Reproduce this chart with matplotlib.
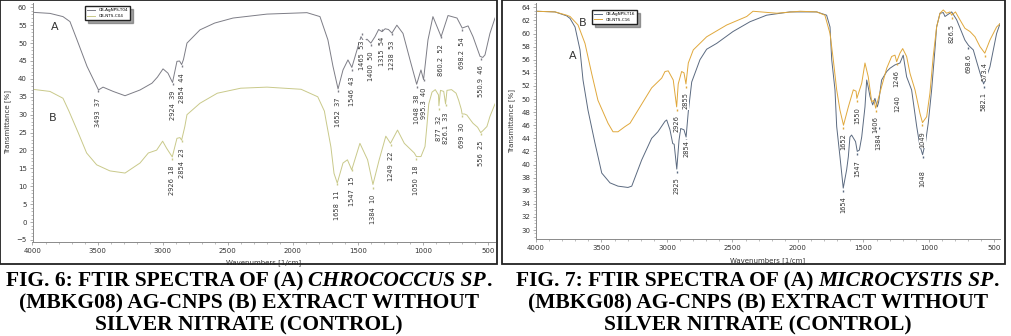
import matplotlib
matplotlib.use('Agg')
import matplotlib.pyplot as plt
from matplotlib.ticker import MultipleLocator
from matplotlib.patches import Rectangle

# ---- Fig. 6 (Chrococcus sp.) ----
f6_a_wn = [4000, 3866, 3766, 3712, 3658, 3581, 3493, 3458, 3380, 3289, 3174, 3082, 3040,
           2997, 2959, 2924, 2890, 2870, 2854, 2840, 2813, 2713, 2600, 2459, 2198, 1891,
           1791, 1730, 1691, 1652, 1614, 1576, 1546, 1499, 1476, 1453, 1430, 1400, 1368,
           1340, 1315, 1290, 1265, 1238, 1200, 1153, 1099, 1048, 1015, 995, 961, 923, 860,
           807, 738, 698, 653, 615, 561, 540, 523, 485, 446]
f6_a_t = [58.6, 58.3, 57.4, 56.0, 50.9, 43.5, 36.9, 37.7, 36.5, 35.3, 36.9, 38.8, 40.5,
          42.8, 41.6, 39.0, 44.9, 45.0, 44.0, 45.4, 50.0, 53.7, 55.6, 57.0, 58.1, 58.5,
          57.4, 50.9, 43.5, 37.2, 42.5, 45.3, 43.2, 49.0, 51.8, 50.4, 51.1, 50.0, 51.8,
          53.8, 53.2, 54.0, 53.8, 52.8, 55.0, 52.7, 45.3, 38.5, 42.5, 39.8, 50.9, 57.4, 51.8,
          57.7, 57.0, 54.2, 54.8, 51.8, 46.3, 46.0, 46.7, 52.7, 57.0]
f6_b_wn = [4000, 3866, 3766, 3720, 3648, 3584, 3507, 3405, 3289, 3174, 3110, 3046, 3000,
           2969, 2926, 2890, 2867, 2854, 2830, 2813, 2713, 2580, 2400, 2198, 1936, 1808,
           1757, 1745, 1707, 1683, 1658, 1614, 1580, 1547, 1484, 1425, 1384, 1336, 1285,
           1249, 1195, 1143, 1066, 1050, 1015, 984, 969, 955, 930, 905, 880, 877, 865, 840,
           826, 815, 780, 745, 725, 705, 699, 680, 662, 640, 615, 580, 556, 540, 508, 485, 446]
f6_b_t = [37.1, 36.5, 34.6, 31.0, 24.9, 19.3, 16.0, 14.3, 13.7, 16.5, 19.3, 20.1, 22.6,
          20.6, 18.2, 23.4, 23.6, 22.9, 26.6, 30.0, 33.2, 36.0, 37.4, 37.7, 37.1, 35.0,
          31.0, 28.5, 21.0, 13.6, 10.9, 16.5, 17.4, 14.6, 22.0, 17.4, 10.5, 17.4, 24.0,
          22.0, 25.7, 22.0, 19.3, 18.3, 18.3, 21.1, 27.0, 33.0, 36.3, 37.0, 35.5, 32.5, 36.8, 36.5,
          33.0, 36.8, 37.0, 36.0, 34.0, 31.5, 30.2, 30.2, 29.9, 28.8, 27.6, 26.5, 25.0, 25.5, 26.7, 29.5, 33.0]
f6_a_peaks = [3493, 2924, 2854, 1652, 1546, 1465, 1400, 1315, 1238, 1048, 995.3, 860.2, 698.2, 550.9]
f6_a_peak_t = [37, 39, 44, 37, 43, 53, 50, 54, 53, 38, 40, 52, 54, 46]
f6_b_peaks = [2926, 2854, 1658, 1547, 1384, 1249, 1050, 877, 826.1, 699, 556]
f6_b_peak_t = [18, 23, 11, 15, 10, 22, 18, 32, 33, 30, 25]

# ---- Fig. 7 (Microcystis sp.) ----
f7_a_wn = [4000, 3855, 3766, 3740, 3702, 3664, 3641, 3603, 3550, 3498, 3435, 3374, 3298,
           3269, 3193, 3117, 3069, 3015, 3002, 2977, 2956, 2945, 2925, 2908, 2895, 2870,
           2854, 2837, 2811, 2748, 2697, 2620, 2496, 2366, 2239, 2061, 1857, 1781, 1755,
           1742, 1717, 1704, 1679, 1654, 1628, 1615, 1603, 1590, 1560, 1547, 1531, 1513,
           1488, 1475, 1463, 1450, 1429, 1412, 1394, 1384, 1361, 1322, 1297, 1260, 1221,
           1196, 1170, 1132, 1093, 1070, 1048, 1025, 1005, 979, 954, 941, 915, 890, 877,
           826, 788, 725, 698, 661, 635, 610, 582, 560, 534, 483, 457]
f7_a_t = [63.4, 63.3, 62.7, 62.3, 61.0, 57.5, 52.9, 48.3, 43.3, 38.7, 37.2, 36.7, 36.5,
          36.7, 40.7, 44.0, 45.0, 46.6, 46.8, 45.3, 43.2, 43.1, 39.3, 43.7, 45.5, 45.3,
          44.2, 48.1, 52.6, 56.0, 57.6, 58.5, 60.3, 61.8, 62.8, 63.3, 63.3, 62.8, 61.0,
          56.0, 51.4, 45.8, 41.2, 36.4, 39.2, 41.2, 44.2, 44.5, 43.5, 42.0, 42.2, 44.2,
          48.8, 52.9, 51.8, 50.4, 49.1, 50.1, 48.8, 49.5, 52.9, 54.2, 54.7, 55.2, 55.5,
          56.7, 53.4, 51.4, 45.8, 43.0, 41.5, 43.5, 46.3, 51.4, 57.5, 61.0, 63.1, 63.2, 62.6,
          63.3, 62.1, 59.0, 58.2, 57.5, 55.7, 54.0, 52.3, 53.4, 54.9, 60.0, 61.5]
f7_b_wn = [4000, 3855, 3766, 3740, 3679, 3626, 3575, 3527, 3450, 3412, 3374, 3320, 3282,
           3221, 3117, 3040, 3015, 2990, 2952, 2926, 2914, 2888, 2870, 2855, 2837, 2799,
           2697, 2544, 2391, 2343, 2162, 1984, 1857, 1794, 1755, 1730, 1704, 1679, 1652,
           1615, 1577, 1556, 1550, 1513, 1488, 1463, 1437, 1420, 1406, 1361, 1322, 1284,
           1259, 1246, 1221, 1200, 1170, 1144, 1106, 1068, 1049, 1017, 992, 967, 941, 915,
           890, 865, 839, 826, 797, 763, 725, 686, 648, 610, 573, 534, 483, 457]
f7_b_t = [63.4, 63.3, 62.8, 62.6, 61.3, 58.5, 53.9, 49.8, 46.3, 45.0, 45.0, 45.8, 46.3,
          48.3, 51.7, 53.2, 54.2, 54.3, 52.9, 48.8, 52.3, 54.2, 54.0, 52.3, 55.5, 57.5,
          59.5, 61.3, 62.6, 63.4, 63.1, 63.4, 63.3, 62.8, 60.0, 56.0, 51.4, 48.3, 46.0,
          48.8, 51.4, 51.2, 50.1, 52.4, 55.5, 53.4, 49.6, 49.8, 48.6, 51.9, 54.7, 56.5,
          56.7, 55.7, 57.0, 57.7, 56.5, 53.9, 51.4, 47.8, 46.4, 47.3, 50.9, 56.5, 61.0, 63.1,
          63.6, 63.1, 63.3, 62.8, 63.3, 62.1, 60.8, 60.3, 59.5, 58.0, 57.0, 59.0, 61.0, 61.5]
f7_a_peaks = [2925, 2854, 1654, 1547, 1384, 1240, 1048, 698.6, 582.1]
f7_a_peak_t = [39.3, 44.2, 36.4, 42.0, 46.0, 53.5, 41.5, 58.2, 52.3]
f7_b_peaks = [2926, 2855, 1652, 1550, 1406, 1246, 1049, 826.5, 573.4]
f7_b_peak_t = [48.8, 52.3, 46.0, 50.1, 48.6, 55.7, 46.4, 62.8, 57.0]

# label drop below the peak, in points (layout only)
f7_a_drop = [6, 2, 6, 6, 6, 14, 11, 6, 6]

W, H = 1012, 336
fig = plt.figure(figsize=(W / 100, H / 100), dpi=100)
fig.patch.set_facecolor('white')


def px_axes(x0, y0, x1, y1):
    return fig.add_axes([x0 / W, 1 - y1 / H, (x1 - x0) / W, (y1 - y0) / H])


def style_axes(ax, ymajor, yminor):
    for s in ['top', 'right']:
        ax.spines[s].set_visible(False)
    for s in ['left', 'bottom']:
        ax.spines[s].set_color('#8a8a8a')
        ax.spines[s].set_linewidth(0.7)
    ax.xaxis.set_major_locator(MultipleLocator(500))
    ax.xaxis.set_minor_locator(MultipleLocator(100))
    ax.yaxis.set_major_locator(MultipleLocator(ymajor))
    ax.yaxis.set_minor_locator(MultipleLocator(yminor))
    ax.tick_params(which='major', length=2.5, width=0.5, color='#8a8a8a',
                   labelsize=5, labelcolor='#333333', pad=1.5)
    ax.tick_params(which='minor', length=1.2, width=0.4, color='#8a8a8a')
    ax.set_xlabel('Wavenumbers [1/cm]', fontsize=5, color='#333333')
    ax.set_ylabel('Transmittance [%]', fontsize=5, color='#333333')


def label_peaks(ax, wns, ts, fmt, color, drops=None):
    if drops is None:
        drops = [6] * len(wns)
    for wn, t, d in zip(wns, ts, drops):
        ax.plot([wn], [t - 0.4], marker='|', ms=2, color=color, lw=0, zorder=3)
        ax.annotate(fmt(wn, t), xy=(wn, t), xytext=(0, -d), textcoords='offset points',
                    rotation=90, ha='center', va='top', fontsize=4.8, color='#333333',
                    zorder=4, bbox=dict(facecolor='white', edgecolor='none', pad=0.2))


def fmt6(wn, t):
    return '%g  %d' % (wn, t)


def fmt7(wn, t):
    return '%g' % wn


# left panel
c6a, c6b = '#7d7d86', '#c9c98a'
axL = px_axes(32.5, 3, 495, 242)
axL.set_xlim(4000, 446)
axL.set_ylim(-5.56, 61.2)
axL.plot(f6_a_wn, f6_a_t, color=c6a, lw=0.7, label='CB-AgNPS-T04')
axL.plot(f6_b_wn, f6_b_t, color=c6b, lw=0.7, label='CB-NTS-C04')
label_peaks(axL, f6_a_peaks, f6_a_peak_t, fmt6, c6a)
label_peaks(axL, f6_b_peaks, f6_b_peak_t, fmt6, c6b)
style_axes(axL, 5, 1)
axL.yaxis.set_label_coords(-0.047, 0.5)
axL.xaxis.set_label_coords(0.5, -0.072)
axL.text(3827, 54.5, 'A', fontsize=8, color='#333333', ha='center', va='center')
axL.text(3842, 29.1, 'B', fontsize=8, color='#333333', ha='center', va='center')
axL.legend(loc='upper left', bbox_to_anchor=(0.109, 0.995), fontsize=3, frameon=True,
           fancybox=False, shadow=True, edgecolor='#222222', handlelength=2,
           borderpad=0.5, labelspacing=0.4, framealpha=1)

# right panel
c7a, c7b = '#5b6a80', '#e0a83c'
axR = px_axes(536, 3, 1000, 239)
axR.set_xlim(4000, 457)
axR.set_ylim(28.63, 64.66)
axR.plot(f7_a_wn, f7_a_t, color=c7a, lw=0.7, label='CB-AgNPS-T16')
axR.plot(f7_b_wn, f7_b_t, color=c7b, lw=0.7, label='CB-NTS-C16')
label_peaks(axR, f7_a_peaks, f7_a_peak_t, fmt7, c7a, f7_a_drop)
label_peaks(axR, f7_b_peaks, f7_b_peak_t, fmt7, c7b)
style_axes(axR, 2, 0.5)
axR.yaxis.set_label_coords(-0.045, 0.5)
axR.xaxis.set_label_coords(0.5, -0.076)
axR.text(3641, 61.6, 'B', fontsize=8, color='#333333', ha='center', va='center')
axR.text(3718, 56.6, 'A', fontsize=8, color='#333333', ha='center', va='center')
axR.legend(loc='upper left', bbox_to_anchor=(0.116, 0.979), fontsize=3, frameon=True,
           fancybox=False, shadow=True, edgecolor='#222222', handlelength=2,
           borderpad=0.5, labelspacing=0.4, framealpha=1)

# panel frames
for x0, x1 in [(0, 497), (502, 1005)]:
    fig.add_artist(Rectangle((x0 / W, 1 - 264 / H), (x1 - x0) / W, 264 / H,
                             transform=fig.transFigure, fill=False, lw=1.3,
                             edgecolor='#222222'))

# captions
cap_font = dict(family='Liberation Serif', weight='bold', fontsize=15.5, color='black')
renderer = fig.canvas.get_renderer()


def caption_line(xc, ypx, parts):
    texts, gaps = [], []
    for s, st, g in parts:
        texts.append(fig.text(0, 1 - ypx / H, s, style=st, va='center', ha='left', **cap_font))
        gaps.append(g)
    widths = [t.get_window_extent(renderer).width for t in texts]
    total = sum(widths) + sum(gaps[1:])
    x = xc - total / 2
    for i, (t, w) in enumerate(zip(texts, widths)):
        if i > 0:
            x += gaps[i]
        t.set_x(x / W)
        x += w


caption_line(249, 281, [('FIG. 6: FTIR SPECTRA OF (A)', 'normal', 0),
                        ('CHROCOCCUS SP', 'italic', 5), ('.', 'normal', 0.5)])
caption_line(249, 303, [('(MBKG08) AG-CNPS (B) EXTRACT WITHOUT', 'normal', 0)])
caption_line(249, 325, [('SILVER NITRATE (CONTROL)', 'normal', 0)])
caption_line(758, 281, [('FIG. 7: FTIR SPECTRA OF (A)', 'normal', 0),
                        ('MICROCYSTIS SP', 'italic', 5), ('.', 'normal', 0.5)])
caption_line(758, 303, [('(MBKG08) AG-CNPS (B) EXTRACT WITHOUT', 'normal', 0)])
caption_line(758, 325, [('SILVER NITRATE (CONTROL)', 'normal', 0)])

fig.savefig('out.png', dpi=100)
